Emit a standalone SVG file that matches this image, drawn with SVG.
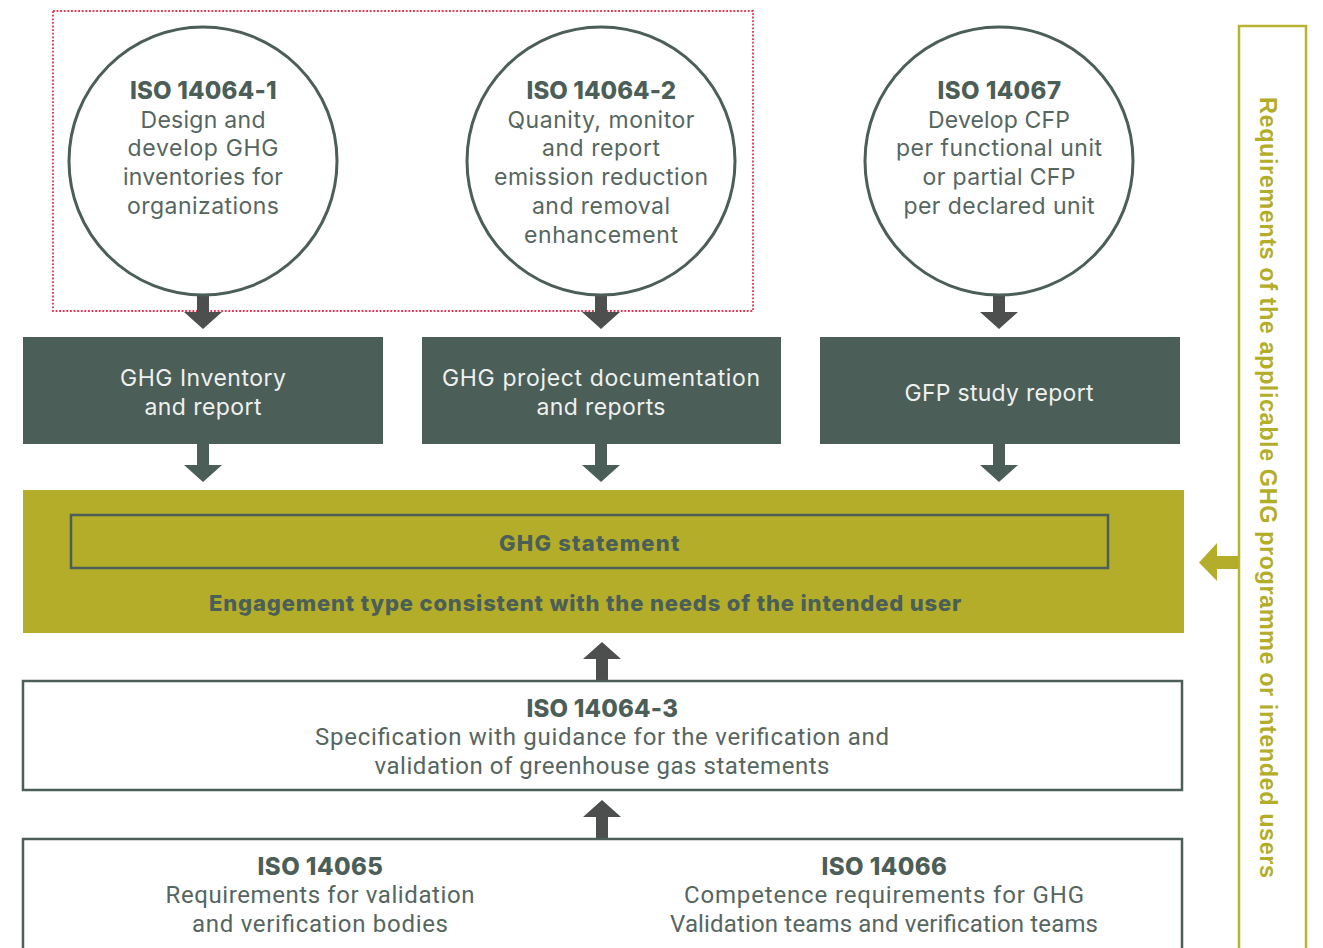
<svg xmlns="http://www.w3.org/2000/svg" width="1323" height="948" viewBox="0 0 1323 948">
<style>
.bg{fill:#ffffff}
.circ{fill:#ffffff;stroke:#4b5e57;stroke-width:3}
.dark{fill:#4b5e57}
.olive{fill:#b3ad2a}
.box{fill:#ffffff;stroke:#4b5e57;stroke-width:2.5}
.t{font-family:Inter,"Noto Sans",sans-serif;font-size:23px;fill:#56665f;text-anchor:middle}
.c{font-family:Roboto,"Liberation Sans",sans-serif;font-size:24px;fill:#56665f;text-anchor:middle}
.h{font-family:Inter,"Noto Sans",sans-serif;font-size:24px;font-weight:800;fill:#4b5e57;text-anchor:middle;letter-spacing:-0.5px}
.w{font-family:Inter,"Noto Sans",sans-serif;font-size:23px;fill:#eef1ef;text-anchor:middle}
.ob{font-family:Inter,"Noto Sans",sans-serif;font-size:22px;font-weight:800;fill:#4b5e57;text-anchor:middle;letter-spacing:-0.3px}
.arrG{fill:#4d4f4f}
.arrD{fill:#4b5e57}
</style>
<rect class="bg" x="0" y="0" width="1323" height="948"/>

<g id="group-outline">
<rect x="53" y="11" width="700" height="300" fill="none" stroke="#e0334f" stroke-width="1.8" stroke-dasharray="1.8 1.8"/>
</g>

<g id="connectors">
<path class="arrG" d="M197 295 H209 V312 H222 L203 329 L184 312 H197 Z"/>
<path class="arrG" d="M595 295 H607 V312 H620 L601 329 L582 312 H595 Z"/>
<path class="arrG" d="M993 295 H1005 V312 H1018 L999 329 L980 312 H993 Z"/>
<path class="arrD" d="M197 444 H209 V465 H222 L203 482 L184 465 H197 Z"/>
<path class="arrD" d="M595 444 H607 V465 H620 L601 482 L582 465 H595 Z"/>
<path class="arrD" d="M993 444 H1005 V465 H1018 L999 482 L980 465 H993 Z"/>
<path class="arrG" d="M596 680 V659 H583 L602 642 L621 659 H608 V680 Z"/>
<path class="arrG" d="M596 838 V817 H583 L602 800 L621 817 H608 V838 Z"/>
<path class="olive" d="M1238 556 V569 H1217 V581 L1199 562.5 L1217 543 V556 Z"/>
</g>

<g id="node-iso14064-1">
<circle class="circ" cx="203" cy="161" r="134"/>
<text class="h" x="203" y="99" textLength="146">ISO 14064-1</text>
<text class="t" x="203" y="128" textLength="125">Design and</text>
<text class="t" x="203" y="156" textLength="151">develop GHG</text>
<text class="t" x="203" y="185" textLength="160">inventories for</text>
<text class="t" x="203" y="214" textLength="152">organizations</text>
</g>

<g id="node-iso14064-2">
<circle class="circ" cx="601" cy="161" r="134"/>
<text class="h" x="601" y="99" textLength="149">ISO 14064-2</text>
<text class="t" x="601" y="128" textLength="187">Quanity, monitor</text>
<text class="t" x="601" y="156" textLength="118">and report</text>
<text class="t" x="601" y="185" textLength="214">emission reduction</text>
<text class="t" x="601" y="214" textLength="138">and removal</text>
<text class="t" x="601" y="243" textLength="154">enhancement</text>
</g>

<g id="node-iso14067">
<circle class="circ" cx="999" cy="161" r="134"/>
<text class="h" x="999" y="99" textLength="123">ISO 14067</text>
<text class="t" x="999" y="128" textLength="142">Develop CFP</text>
<text class="t" x="999" y="156" textLength="206">per functional unit</text>
<text class="t" x="999" y="185" textLength="153">or partial CFP</text>
<text class="t" x="999" y="214" textLength="191">per declared unit</text>
</g>

<g id="node-ghg-inventory">
<rect class="dark" x="23" y="337" width="360" height="107"/>
<text class="w" x="203" y="386" textLength="166">GHG Inventory</text>
<text class="w" x="203" y="415" textLength="117">and report</text>
</g>

<g id="node-ghg-project">
<rect class="dark" x="422" y="337" width="359" height="107"/>
<text class="w" x="601" y="386" textLength="318">GHG project documentation</text>
<text class="w" x="601" y="415" textLength="129">and reports</text>
</g>

<g id="node-gfp-study">
<rect class="dark" x="820" y="337" width="360" height="107"/>
<text class="w" x="999" y="401" textLength="189">GFP study report</text>
</g>

<g id="node-ghg-statement">
<rect class="olive" x="23" y="490" width="1161" height="143"/>
<rect x="71" y="515" width="1037" height="53" fill="none" stroke="#4b5e57" stroke-width="2.5"/>
<text class="ob" x="589" y="551" textLength="180">GHG statement</text>
<text class="ob" x="585" y="611" textLength="752">Engagement type consistent with the needs of the intended user</text>
</g>

<g id="node-iso14064-3">
<rect class="box" x="23" y="681" width="1159" height="109"/>
<text class="h" x="602" y="717" textLength="151">ISO 14064-3</text>
<text class="c" x="602" y="745" textLength="574">Specification with guidance for the verification and</text>
<text class="c" x="602" y="774" textLength="455">validation of greenhouse gas statements</text>
</g>

<g id="node-bottom">
<rect class="box" x="23" y="839" width="1159" height="120"/>
<text class="h" x="320" y="875" textLength="125">ISO 14065</text>
<text class="c" x="320" y="903" textLength="309">Requirements for validation</text>
<text class="c" x="320" y="932" textLength="256">and verification bodies</text>
<text class="h" x="884" y="875" textLength="125">ISO 14066</text>
<text class="c" x="884" y="903" textLength="400">Competence requirements for GHG</text>
<text class="c" x="884" y="932" textLength="428">Validation teams and verification teams</text>
</g>

<g id="node-requirements">
<rect x="1239" y="26" width="67" height="940" fill="none" stroke="#b9b430" stroke-width="2.5"/>
<text transform="translate(1260,487.5) rotate(90)" x="0" y="0" text-anchor="middle" textLength="781" style="font-family:'Liberation Sans',Arial,sans-serif;font-size:23.5px;font-weight:bold;fill:#b3ad2a">Requirements of the applicable GHG programme or intended users</text>
</g>
</svg>
